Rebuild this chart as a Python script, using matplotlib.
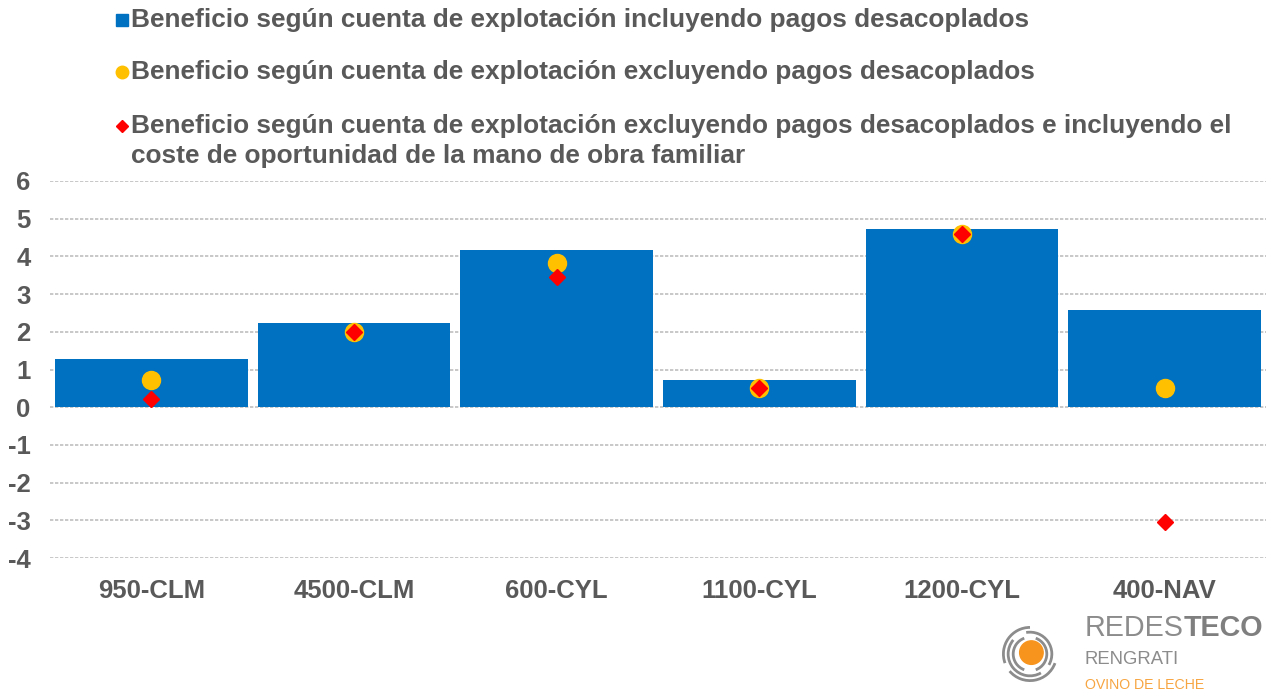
import matplotlib
matplotlib.use("Agg")
import matplotlib.pyplot as plt
from matplotlib.lines import Line2D
from matplotlib.patches import Circle, Arc

plt.rcParams['font.family'] = ['Liberation Sans', 'DejaVu Sans']

categories = ["950-CLM", "4500-CLM", "600-CYL", "1100-CYL", "1200-CYL", "400-NAV"]
incl_pagos = [1.27, 2.23, 4.16, 0.72, 4.72, 2.57]
excl_pagos = [0.72, 2.00, 3.82, 0.50, 4.60, 0.50]
excl_coste_mo = [0.21, 2.00, 3.45, 0.50, 4.60, -3.05]
yticks = [6, 5, 4, 3, 2, 1, 0, -1, -2, -3, -4]

legend_labels = [
    "Beneficio según cuenta de explotación incluyendo pagos desacoplados",
    "Beneficio según cuenta de explotación excluyendo pagos desacoplados",
    "Beneficio según cuenta de explotación excluyendo pagos desacoplados e incluyendo el\n"
    "coste de oportunidad de la mano de obra familiar",
]

BLUE = "#0070C0"
YELLOW = "#FFC000"
RED = "#FF0000"
GREY = "#595959"

W, H = 1266, 693
fig = plt.figure(figsize=(W / 100, H / 100), dpi=100)
ax = fig.add_axes([50 / W, 1 - 558 / H, (1266 - 50) / W, (558 - 181) / H])

x = list(range(len(categories)))
ax.bar(x, incl_pagos, width=0.95, color=BLUE, zorder=2)
ax.plot(x, excl_pagos, "o", color=YELLOW, markersize=13, linestyle="none", zorder=3)
ax.plot(x, excl_coste_mo, "D", color=RED, markersize=8, linestyle="none", zorder=4)

ax.set_xlim(-0.5, 5.5)
ax.set_ylim(-4, 6)
ax.set_yticks(yticks)
ax.set_yticklabels([str(v) for v in yticks])
ax.set_xticks(x)
ax.set_xticklabels(categories)
ax.tick_params(axis="both", length=0, labelsize=18.5, labelcolor=GREY)
ax.tick_params(axis="y", pad=14)
ax.tick_params(axis="x", pad=15)
for lbl in ax.get_xticklabels() + ax.get_yticklabels():
    lbl.set_fontweight("bold")
ax.yaxis.grid(True, color="#BFBFBF", linestyle=(0, (2, 1)), linewidth=1.2, zorder=0)
for s in ax.spines.values():
    s.set_visible(False)

# legend drawn by hand (marker sits on the first line of the wrapped entry)
leg_y = [20, 72, 126]
line_gap = 30
leg_markers = [("s", BLUE, 8), ("o", YELLOW, 9), ("D", RED, 6)]
for (m, c, ms), lab, yy in zip(leg_markers, legend_labels, leg_y):
    fig.add_artist(Line2D([122 / W], [1 - yy / H], marker=m, color=c, markersize=ms,
                          linestyle="none", transform=fig.transFigure))
    for i, part in enumerate(lab.split("\n")):
        fig.text(131 / W, 1 - (yy + i * line_gap) / H, part, fontsize=18.9,
                 fontweight="bold", color=GREY, va="center", ha="left")

# logo
logo_ax = fig.add_axes([1002 / W, 1 - 682 / H, 56 / W, 56 / H])
logo_ax.set_xlim(-1, 1)
logo_ax.set_ylim(-1, 1)
logo_ax.set_aspect("equal")
logo_ax.axis("off")
logo_ax.add_patch(Circle((0.05, 0.05), 0.42, color="#F7941D"))
for r, a0, a1 in [(0.6, 110, 250), (0.6, 290, 70), (0.78, 140, 300), (0.78, 330, 100),
                  (0.95, 90, 200), (0.95, 220, 340)]:
    logo_ax.add_patch(Arc((0, 0), 2 * r, 2 * r, theta1=a0, theta2=a1, color="#8C8C8C", lw=2.0))
fig.text(1085 / W, 1 - 628 / H, "REDES", fontsize=20.7, color="#8C8C8C", va="center", ha="left")
fig.text(1184 / W, 1 - 628 / H, "TECO", fontsize=20.7, color="#7F7F7F", fontweight="bold",
         va="center", ha="left")
fig.text(1085 / W, 1 - 660 / H, "RENGRATI", fontsize=13.3, color="#8C8C8C", va="center", ha="left")
fig.text(1085 / W, 1 - 685 / H, "OVINO DE LECHE", fontsize=10.2, color="#F7A541", va="center", ha="left")

fig.savefig("out.png", dpi=100, facecolor="white")
